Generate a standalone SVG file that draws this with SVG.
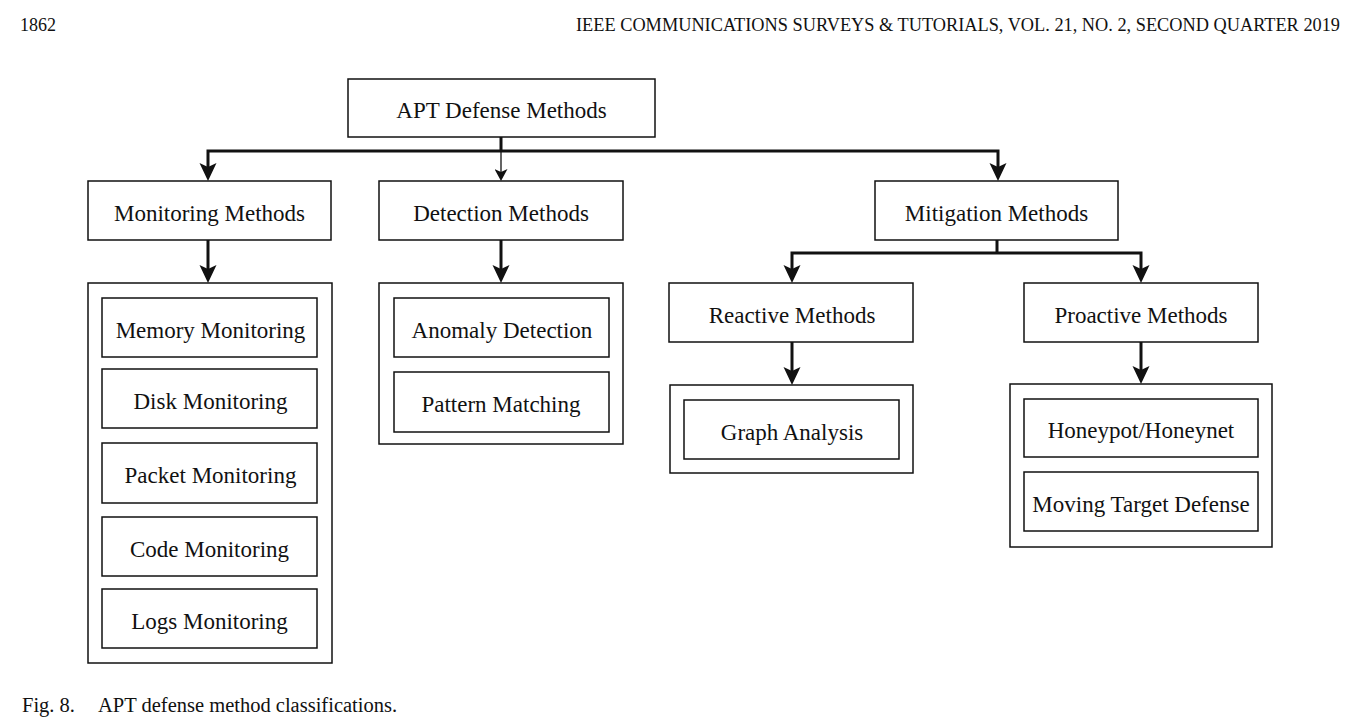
<svg xmlns="http://www.w3.org/2000/svg" width="1362" height="726" viewBox="0 0 1362 726">
<style>
.box{fill:#fff;stroke:#111;stroke-width:1.5}
.lbl{font-family:"Liberation Serif","Times New Roman",serif;font-size:23px;fill:#111;text-anchor:middle}
.hdr{font-family:"Liberation Serif","Times New Roman",serif;font-size:18px;fill:#111}
.cap{font-family:"Liberation Serif","Times New Roman",serif;font-size:20.5px;fill:#111}
.thick{fill:none;stroke:#111;stroke-width:3;stroke-linejoin:miter}
.thin{fill:none;stroke:#111;stroke-width:1.3}
</style>
<defs>
<marker id="arrowBig" markerUnits="userSpaceOnUse" viewBox="0 0 18 18" markerWidth="18" markerHeight="18" refX="10" refY="9" orient="auto-start-reverse">
<path d="M0,0.5 L18,9 L0,17.5 L4,9 Z" fill="#111"/>
</marker>
<marker id="arrowSmall" markerUnits="userSpaceOnUse" viewBox="0 0 12 13" markerWidth="12" markerHeight="13" refX="7" refY="6.5" orient="auto">
<path d="M0,0 L12,6.5 L0,13 L3,6.5 Z" fill="#111"/>
</marker>
</defs>
<rect width="1362" height="726" fill="#fff"/>
<text class="hdr" x="20" y="31">1862</text>
<text class="hdr" x="1340" y="31" text-anchor="end" textLength="764" lengthAdjust="spacingAndGlyphs">IEEE COMMUNICATIONS SURVEYS &amp; TUTORIALS, VOL. 21, NO. 2, SECOND QUARTER 2019</text>

<g id="connectors">
<path class="thick" d="M501,137 V151"/>
<path class="thick" d="M208,173 V151 H998 V173" marker-start="url(#arrowBig)" marker-end="url(#arrowBig)"/>
<path class="thin" d="M501,151 V176" marker-end="url(#arrowSmall)"/>
<path class="thick" d="M208,240 V275" marker-end="url(#arrowBig)"/>
<path class="thick" d="M501,240 V275" marker-end="url(#arrowBig)"/>
<path class="thick" d="M997,240 V253"/>
<path class="thick" d="M792,275 V253 H1141 V275" marker-start="url(#arrowBig)" marker-end="url(#arrowBig)"/>
<path class="thick" d="M792,342 V377" marker-end="url(#arrowBig)"/>
<path class="thick" d="M1141,342 V376" marker-end="url(#arrowBig)"/>
</g>

<g id="root"><rect class="box" x="348" y="79" width="307" height="58"/><text class="lbl" x="501.5" y="118">APT Defense Methods</text></g>
<g id="monitoring"><rect class="box" x="88" y="181" width="243" height="59"/><text class="lbl" x="209.5" y="220.5">Monitoring Methods</text></g>
<g id="detection"><rect class="box" x="379" y="181" width="244" height="59"/><text class="lbl" x="501" y="220.5">Detection Methods</text></g>
<g id="mitigation"><rect class="box" x="875" y="181" width="243" height="59"/><text class="lbl" x="996.5" y="220.5">Mitigation Methods</text></g>

<g id="monitoring-group">
<rect class="box" x="88" y="283" width="244" height="380"/>
<g id="memory"><rect class="box" x="102" y="298" width="215" height="59"/><text class="lbl" x="210.5" y="337.5">Memory Monitoring</text></g>
<g id="disk"><rect class="box" x="102" y="369" width="215" height="59"/><text class="lbl" x="210.5" y="408.5">Disk Monitoring</text></g>
<g id="packet"><rect class="box" x="102" y="443" width="215" height="60"/><text class="lbl" x="210.5" y="483">Packet Monitoring</text></g>
<g id="code"><rect class="box" x="102" y="517" width="215" height="59"/><text class="lbl" x="209.5" y="556.5">Code Monitoring</text></g>
<g id="logs"><rect class="box" x="102" y="589" width="215" height="59"/><text class="lbl" x="209.5" y="628.5">Logs Monitoring</text></g>
</g>

<g id="detection-group">
<rect class="box" x="379" y="283" width="244" height="161"/>
<g id="anomaly"><rect class="box" x="394" y="298" width="215" height="59"/><text class="lbl" x="502" y="337.5">Anomaly Detection</text></g>
<g id="pattern"><rect class="box" x="394" y="372" width="215" height="60"/><text class="lbl" x="501" y="412">Pattern Matching</text></g>
</g>

<g id="reactive"><rect class="box" x="669" y="283" width="244" height="59"/><text class="lbl" x="792" y="322.5">Reactive Methods</text></g>
<g id="proactive"><rect class="box" x="1024" y="283" width="234" height="59"/><text class="lbl" x="1141" y="322.5">Proactive Methods</text></g>

<g id="reactive-group">
<rect class="box" x="670" y="385" width="243" height="88"/>
<g id="graph"><rect class="box" x="684" y="400" width="215" height="59"/><text class="lbl" x="792" y="439.5">Graph Analysis</text></g>
</g>

<g id="proactive-group">
<rect class="box" x="1010" y="384" width="262" height="163"/>
<g id="honeypot"><rect class="box" x="1024" y="399" width="234" height="58"/><text class="lbl" x="1141" y="438">Honeypot/Honeynet</text></g>
<g id="mtd"><rect class="box" x="1024" y="472" width="234" height="59"/><text class="lbl" x="1141" y="511.5">Moving Target Defense</text></g>
</g>

<text class="cap" x="22" y="712">Fig. 8.</text>
<text class="cap" x="98" y="712">APT defense method classifications.</text>
</svg>
